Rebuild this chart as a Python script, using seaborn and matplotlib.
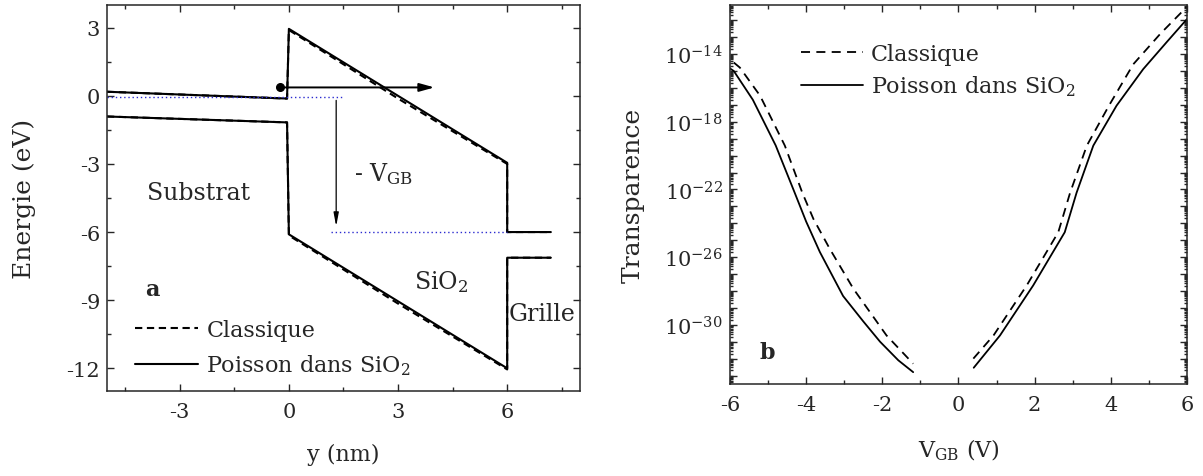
import numpy as np
import pandas as pd
import matplotlib
matplotlib.use("Agg")
import matplotlib.pyplot as plt
import matplotlib.ticker as mticker
import seaborn as sns

# ---- panel a : band diagram (y in nm, energy in eV) ----
cb_y_poisson = [-5.0, -0.05, 0.0, 6.0, 6.0, 7.2]
cb_e_poisson = [0.18, -0.12, 2.95, -2.95, -6.0, -6.0]
vb_y_poisson = [-5.0, -0.05, 0.0, 6.0, 6.0, 7.2]
vb_e_poisson = [-0.91, -1.17, -6.1, -12.0, -7.13, -7.13]

cb_y_classique = [-5.0, -0.05, 0.0, 3.0, 6.0, 6.0, 7.2]
cb_e_classique = [0.18, -0.12, 2.9, -0.12, -3.0, -6.0, -6.0]
vb_y_classique = [-5.0, -0.05, 0.0, 3.0, 6.0, 6.0, 7.2]
vb_e_classique = [-0.91, -1.17, -6.15, -9.15, -12.05, -7.13, -7.13]

fermi_sub_y = [-5.0, 1.5]
fermi_sub_e = [-0.03, -0.03]
fermi_gate_y = [1.15, 6.0]
fermi_gate_e = [-6.0, -6.0]

# ---- panel b : transparency vs V_GB (log10 values) ----
vgb_left_poisson = [-6.0, -5.9, -5.4, -4.8, -4.3, -4.0, -3.64, -3.03, -2.5, -2.06, -1.58, -1.19]
logt_left_poisson = [-14.85, -15.0, -16.7, -19.4, -22.2, -23.9, -25.7, -28.3, -29.8, -31.0, -32.1, -32.8]
vgb_right_poisson = [0.40, 1.09, 1.96, 2.79, 3.1, 3.54, 4.15, 4.85, 5.46, 6.0]
logt_right_poisson = [-32.54, -30.63, -27.68, -24.53, -22.2, -19.41, -17.05, -14.89, -13.31, -11.93]

vgb_left_classique = [-5.9, -5.74, -5.21, -4.56, -4.1, -3.81, -3.38, -2.76, -1.89, -1.19]
logt_left_classique = [-14.5, -14.8, -16.46, -19.41, -22.2, -23.74, -25.51, -27.87, -30.63, -32.3]
vgb_right_classique = [0.39, 0.92, 1.79, 2.62, 2.93, 3.37, 3.95, 4.59, 5.3, 6.0]
logt_right_classique = [-32.0, -30.63, -27.68, -24.53, -22.2, -19.41, -17.05, -14.6, -12.8, -11.2]

LBL_CL = "Classique"
LBL_PO = r"Poisson dans SiO$_2$"
LOG_LABELS = [-14, -18, -22, -26, -30]


def build_df(parts):
    rows = []
    for label, unit, xs, ys in parts:
        for i, (a, b) in enumerate(zip(xs, ys)):
            rows.append({"x": a, "y": b, "model": label, "unit": unit, "order": i})
    return pd.DataFrame(rows)


df_a = build_df([
    (LBL_CL, "cb_cl", cb_y_classique, cb_e_classique),
    (LBL_CL, "vb_cl", vb_y_classique, vb_e_classique),
    (LBL_PO, "cb_po", cb_y_poisson, cb_e_poisson),
    (LBL_PO, "vb_po", vb_y_poisson, vb_e_poisson),
])

df_b = build_df([
    (LBL_CL, "l_cl", vgb_left_classique, 10.0 ** np.array(logt_left_classique)),
    (LBL_CL, "r_cl", vgb_right_classique, 10.0 ** np.array(logt_right_classique)),
    (LBL_PO, "l_po", vgb_left_poisson, 10.0 ** np.array(logt_left_poisson)),
    (LBL_PO, "r_po", vgb_right_poisson, 10.0 ** np.array(logt_right_poisson)),
])

sns.set_style("ticks")
plt.rcParams["font.family"] = ["DejaVu Serif"]
plt.rcParams["mathtext.fontset"] = "dejavuserif"
plt.rcParams.update({
    "xtick.direction": "in", "ytick.direction": "in",
    "xtick.top": True, "ytick.right": True,
    "axes.linewidth": 1.1,
    "xtick.major.width": 1.0, "ytick.major.width": 1.0,
    "xtick.minor.width": 1.0, "ytick.minor.width": 1.0,
    "xtick.major.size": 5, "ytick.major.size": 5,
    "xtick.minor.size": 3, "ytick.minor.size": 3,
    "xtick.labelsize": 15, "ytick.labelsize": 15,
    "xtick.major.pad": 8, "ytick.major.pad": 5,
    "axes.labelsize": 16,
})

fig = plt.figure(figsize=(12.03, 4.77), dpi=100)
ax1 = fig.add_axes([0.0889, 0.1782, 0.3932, 0.8092])
ax2 = fig.add_axes([0.6068, 0.1929, 0.3799, 0.7945])

# ---------------- panel a ----------------
sns.lineplot(data=df_a, x="x", y="y", style="model", units="unit", estimator=None,
             sort=False, color="black", lw=1.5, dashes={LBL_CL: (3.5, 2.2), LBL_PO: ""},
             style_order=[LBL_CL, LBL_PO], ax=ax1)
sns.lineplot(x=fermi_sub_y, y=fermi_sub_e, color="#2b2bd0", lw=1.0, ls=(0, (1, 2)), ax=ax1)
sns.lineplot(x=fermi_gate_y, y=fermi_gate_e, color="#2b2bd0", lw=1.0, ls=(0, (1, 2)), ax=ax1)

# electron and tunnelling arrow
ax1.plot([-0.25], [0.37], "o", color="black", ms=5.5)
ax1.annotate("", xy=(4.0, 0.37), xytext=(-0.1, 0.37),
             arrowprops=dict(arrowstyle="-|>,head_length=0.9,head_width=0.25",
                             color="black", lw=1.4, shrinkA=0, shrinkB=0))
ax1.annotate("", xy=(1.3, -5.75), xytext=(1.3, -0.2),
             arrowprops=dict(arrowstyle="-|>,head_length=0.8,head_width=0.15",
                             color="black", lw=0.9, shrinkA=0, shrinkB=0))

ax1.text(1.8, -3.4, r"- V$_{\mathrm{GB}}$", fontsize=17, ha="left", va="center")
ax1.text(-3.9, -4.25, "Substrat", fontsize=17, ha="left", va="center")
ax1.text(3.45, -8.15, r"SiO$_2$", fontsize=17, ha="left", va="center")
ax1.text(6.03, -9.6, "Grille", fontsize=17, ha="left", va="center")
ax1.text(-3.95, -8.5, "a", fontsize=16, fontweight="bold", ha="left", va="center")

ax1.set_xlim(-5, 8)
ax1.set_ylim(-13, 4)
ax1.xaxis.set_major_locator(mticker.MultipleLocator(3))
ax1.xaxis.set_minor_locator(mticker.MultipleLocator(1.5))
ax1.yaxis.set_major_locator(mticker.MultipleLocator(3))
ax1.yaxis.set_minor_locator(mticker.MultipleLocator(1.5))
ax1.xaxis.set_major_formatter(mticker.FuncFormatter(lambda v, p: f"{v:.0f}"))
ax1.yaxis.set_major_formatter(mticker.FuncFormatter(lambda v, p: f"{v:.0f}"))
ax1.set_xlabel("y (nm)", labelpad=16)
ax1.set_ylabel("Energie (eV)", labelpad=22, fontsize=18)
ax1.legend(loc="lower left", bbox_to_anchor=(0.06, 0.035), frameon=False, fontsize=16,
           handlelength=2.8, handletextpad=0.4, labelspacing=0.55, borderpad=0,
           borderaxespad=0)

# ---------------- panel b ----------------
sns.lineplot(data=df_b, x="x", y="y", style="model", units="unit", estimator=None,
             sort=False, color="black", lw=1.3, dashes={LBL_CL: (5, 3.5), LBL_PO: ""},
             style_order=[LBL_CL, LBL_PO], ax=ax2)
ax2.set_yscale("log")
ax2.set_xlim(-6, 6)
ax2.set_ylim(10 ** -33.5, 10 ** -11.1)
ax2.xaxis.set_major_locator(mticker.MultipleLocator(2))
ax2.xaxis.set_minor_locator(mticker.MultipleLocator(1))
ax2.xaxis.set_major_formatter(mticker.FuncFormatter(lambda v, p: f"{v:.0f}"))
ax2.yaxis.set_major_locator(mticker.LogLocator(base=10, numticks=100))
ax2.yaxis.set_minor_locator(mticker.LogLocator(base=10, subs=np.arange(2, 10), numticks=100))
ax2.yaxis.set_minor_formatter(mticker.NullFormatter())


def log_label(v, pos):
    e = int(round(np.log10(v)))
    return rf"$10^{{{e}}}$" if e in LOG_LABELS else ""


ax2.yaxis.set_major_formatter(mticker.FuncFormatter(log_label))
ax2.tick_params(axis="y", which="minor", length=2.5)
ax2.tick_params(axis="y", which="major", length=5)
ax2.text(0.065, 0.085, "b", transform=ax2.transAxes, fontsize=16, fontweight="bold",
         ha="left", va="center")
ax2.set_xlabel(r"V$_{\mathrm{GB}}$ (V)", labelpad=16)
ax2.set_ylabel("Transparence", labelpad=14, fontsize=18)
ax2.legend(loc="upper left", bbox_to_anchor=(0.155, 0.9), frameon=False, fontsize=16,
           handlelength=2.8, handletextpad=0.35, labelspacing=0.4, borderpad=0,
           borderaxespad=0)

fig.savefig("out.png", dpi=100)
